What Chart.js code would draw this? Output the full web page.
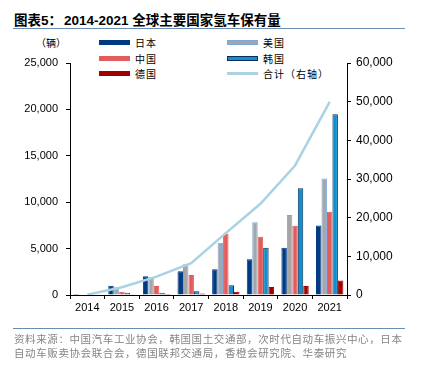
<!DOCTYPE html>
<html>
<head>
<meta charset="utf-8">
<script src="https://cdn.jsdelivr.net/npm/chart.js@4"></script>
<style>
  body { margin: 0; width: 423px; height: 374px; position: relative; background: #fff; overflow: hidden;
         font-family: "Liberation Sans", Arial, "Noto Sans CJK SC", sans-serif; }
  #chart-canvas { position: absolute; left: 0; top: 0; }
  .title { position: absolute; top: 9px; font-size: 13.5px; font-weight: bold; color: #000;
           font-family: "Liberation Sans", Arial, "Noto Sans CJK SC", sans-serif; white-space: nowrap; }
  .rule { position: absolute; left: 13px; width: 392px; height: 0; border-top: 1.5px solid #6a8db5; }
  .unit { position: absolute; left: 36px; top: 35px; font-size: 10px; font-family: "Noto Sans CJK SC", sans-serif; }
  .legend-item { position: absolute; font-size: 10px; font-family: "Noto Sans CJK SC", sans-serif; letter-spacing: 1px;
                 display: flex; align-items: center; white-space: nowrap; }
  .swatch { width: 31px; height: 5px; margin-right: 5px; box-sizing: border-box; }
  .source { position: absolute; left: 14px; top: 332px; font-size: 10.5px; line-height: 14px; color: #858585;
            font-family: "Noto Sans CJK SC", sans-serif; letter-spacing: 0.6px; white-space: nowrap; }
</style>
</head>
<body>
<div class="title" style="left:14px">图表5：</div>
<div class="title" style="left:64px">2014-2021 全球主要国家氢车保有量</div>
<div class="rule" style="top:28px"></div>
<div class="unit">（辆）</div>
<div id="legend"></div>
<canvas id="chart-canvas" width="423" height="374"></canvas>
<div class="rule" style="top:328px"></div>
<div class="source">资料来源：中国汽车工业协会，韩国国土交通部，次时代自动车振兴中心，日本<br>自动车贩卖协会联合会，德国联邦交通局，香橙会研究院、华泰研究</div>

<script>
// Categories and series (vehicles)
const years = ['2014', '2015', '2016', '2017', '2018', '2019', '2020', '2021'];
const japan   = [100, 1000, 2020, 2560, 2780, 3860, 5090, 7500];
const usa     = [0, 830, 1900, 3320, 5630, 7830, 8620, 12550];
const china   = [0, 360, 975, 2160, 6600, 6280, 7470, 8980];
const korea   = [0, 250, 250, 400, 1050, 5090, 11500, 19480];
const germany = [0, 80, 100, 150, 360, 870, 970, 1550];
const total   = [100, 2000, 4750, 8230, 16000, 23600, 33500, 49950];

const leftTicks = [0, 5000, 10000, 15000, 20000, 25000];
const rightTicks = [0, 10000, 20000, 30000, 40000, 50000, 60000];

// Legend entries (HTML, laid out in two columns)
const legendItems = [
  { label: '日本', fill: '#003a80', border: '#003a80', x: 99, y: 42 },
  { label: '美国', fill: '#a6a6a6', border: '#7ba7dc', x: 227, y: 42 },
  { label: '中国', fill: '#e35b5b', border: '#e35b5b', x: 99, y: 58 },
  { label: '韩国', fill: '#0f8fcf', border: '#0b2f57', x: 227, y: 58 },
  { label: '德国', fill: '#a00000', border: '#a00000', x: 99, y: 73 },
  { label: '合计（右轴）', fill: '#a9d3e3', border: '#a9d3e3', x: 227, y: 73, thin: true }
];

const legendBox = document.getElementById('legend');
legendItems.forEach(item => {
  const div = document.createElement('div');
  div.className = 'legend-item';
  div.style.left = item.x + 'px';
  div.style.top = (item.y - 7) + 'px';
  const sw = document.createElement('span');
  sw.className = 'swatch';
  sw.style.background = item.fill;
  sw.style.border = '1px solid ' + item.border;
  if (item.thin) sw.style.height = '3px';
  div.appendChild(sw);
  const txt = document.createElement('span');
  txt.textContent = item.label;
  div.appendChild(txt);
  legendBox.appendChild(div);
});

const fmt = v => v.toLocaleString('en-US');

function barSet(label, data, fill, border) {
  return {
    type: 'bar', label: label, data: data, yAxisID: 'y',
    backgroundColor: fill, borderColor: border, borderWidth: 1,
    barPercentage: 1, categoryPercentage: 0.79, order: 2
  };
}

const ctx = document.getElementById('chart-canvas').getContext('2d');
new Chart(ctx, {
  data: {
    labels: years,
    datasets: [
      barSet('日本', japan, '#003a80', '#003a80'),
      barSet('美国', usa, '#a6a6a6', '#7ba7dc'),
      barSet('中国', china, '#e35b5b', '#e35b5b'),
      barSet('韩国', korea, '#0f8fcf', '#0b2f57'),
      barSet('德国', germany, '#a00000', '#a00000'),
      {
        type: 'line', label: '合计（右轴）', data: total, yAxisID: 'y1',
        borderColor: '#a9d3e3', borderWidth: 2.5, pointRadius: 0, tension: 0, order: 1
      }
    ]
  },
  options: {
    responsive: false,
    animation: false,
    layout: { padding: { top: 63, left: 0, right: 0, bottom: 0 } },
    plugins: { legend: { display: false }, tooltip: { enabled: false } },
    scales: {
      x: {
        offset: true,
        grid: { display: true, drawOnChartArea: false, drawTicks: true, tickLength: 4, color: '#000', offset: true },
        border: { color: '#000', width: 1 },
        ticks: { color: '#000', padding: 2, font: { family: 'Liberation Sans', size: 11 } },
        afterFit: s => { s.height = 374 - 295; }
      },
      y: {
        position: 'left', min: 0, max: 25000,
        afterBuildTicks: s => { s.ticks = leftTicks.map(v => ({ value: v })); },
        grid: { drawOnChartArea: false, tickLength: 4, color: '#000' },
        border: { color: '#000', width: 1 },
        ticks: { color: '#000', padding: 8, font: { family: 'Liberation Sans', size: 11 }, callback: v => fmt(v) },
        afterFit: s => { s.width = 70; }
      },
      y1: {
        position: 'right', min: 0, max: 60000,
        afterBuildTicks: s => { s.ticks = rightTicks.map(v => ({ value: v })); },
        grid: { drawOnChartArea: false, tickLength: 4, color: '#000' },
        border: { color: '#000', width: 1 },
        ticks: { color: '#000', padding: 5, font: { family: 'Liberation Sans', size: 12 }, callback: v => fmt(v) },
        afterFit: s => { s.width = 423 - 347; }
      }
    }
  }
});
</script>
</body>
</html>
